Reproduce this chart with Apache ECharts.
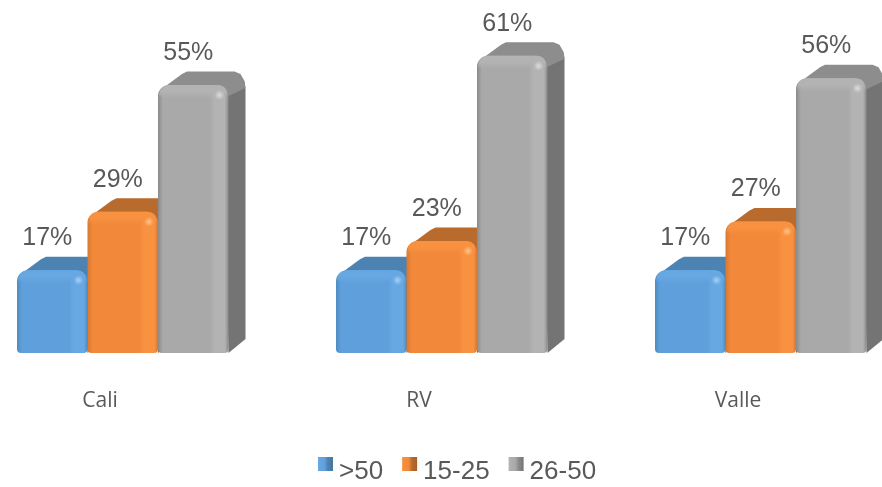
<!DOCTYPE html>
<html><head><meta charset="utf-8">
<style>html,body{margin:0;padding:0;background:#fff}#c{width:882px;height:487px;filter:blur(0.7px)}</style>
<script src="https://cdn.jsdelivr.net/npm/echarts@6/dist/echarts.min.js"></script>
</head><body><div id="c"></div>
<script>
const categories = ['Cali', 'RV', 'Valle'];
const over50 = [17, 17, 17];
const range15to25 = [29, 23, 27];
const range26to50 = [55, 61, 56.4];
const seriesNames = ['>50', '15-25', '26-50'];

const palettes = [
  {edge:'#4f8bc2', base:'#5f9fdb', lite:'#67a8e3', top:'#4c83b2', side:'#47759f', glow:'#a5d0f5'},
  {edge:'#d9772f', base:'#f1883a', lite:'#f89140', top:'#b96b2d', side:'#a55e27', glow:'#ffc48a'},
  {edge:'#8a8a8a', base:'#a9a9a9', lite:'#b3b3b3', top:'#8d8d8d', side:'#747474', glow:'#dcdcdc'}
];
const barW = 70.5, depthX = 17, depthY = 14, startOff = -83, labelDY = -32, labelDX = -5;

function renderBar(si){
  const p = palettes[si];
  return function(params, api){
    const pt = api.coord([api.value(0), api.value(1)]);
    const base = api.coord([api.value(0), 0]);
    const x0 = pt[0] + startOff + si * barW, x1 = x0 + barW;
    const y = pt[1], b = base[1], h = b - y;
    const grad = (d, stops) => ({type:'linear', x:0, y:0, x2:d?1:0, y2:d?0:1, colorStops:stops});
    return {type:'group', children:[
      {type:'polygon', shape:{points:[[x1-6,y+4],[x1-3,y-5],[x1+4,y-12],[x1+depthX-5,y-8],[x1+depthX-1,y-3],[x1+depthX,y+3],[x1+depthX,b-depthY],[x1,b]]},
        style:{fill:p.side}},
      {type:'polygon', shape:{points:[[x0+2,y+8],[x0+5,y+3],[x0+24,y-11],[x0+29,y-13.5],[x1+6,y-13.5],[x1+12,y-11],[x1+16,y-4],[x1+depthX,y+3],[x1-2,y+12]]},
        style:{fill:p.top}},
      {type:'rect', shape:{x:x0,y:y,width:barW,height:h,r:[11,11,4,4]},
        style:{fill:grad(1,[{offset:0,color:p.edge},{offset:0.07,color:p.base},{offset:0.74,color:p.base},{offset:0.8,color:p.lite},{offset:0.95,color:p.lite},{offset:1,color:p.edge}])}},
      {type:'rect', shape:{x:x0+1,y:y,width:barW-2,height:13,r:[11,11,0,0]},
        style:{fill:grad(0,[{offset:0,color:p.lite},{offset:0.5,color:p.lite},{offset:1,color:p.lite+'00'}])}},
      {type:'circle', shape:{cx:x1-9,cy:y+10,r:5},
        style:{fill:{type:'radial',x:0.5,y:0.5,r:0.5,colorStops:[{offset:0,color:p.glow},{offset:1,color:p.glow+'00'}]}}},
      {type:'text', style:{text:Math.round(api.value(1))+'%', x:x0+barW/2+labelDX, y:y+labelDY, align:'center', verticalAlign:'middle',
        fill:'#595959', font:'25px "Liberation Sans"'}}
    ]};
  };
}
const values = [over50, range15to25, range26to50];
const legendFill = c => ({type:'linear',x:0,y:0,x2:1,y2:0,colorStops:[{offset:0,color:c.lite},{offset:0.45,color:c.base},{offset:0.65,color:c.top},{offset:1,color:c.side}]});
const legendIcon = 'path://M0,0H15V14H0Z M0,30H0Z';

const chart = echarts.init(document.getElementById('c'), null, {renderer:'canvas'});
chart.setOption({
  animation:false,
  backgroundColor:'#fff',
  grid:{left:100, right:144, top:12, bottom:134},
  xAxis:{type:'category', data:categories, boundaryGap:false,
    axisLine:{show:false}, axisTick:{show:false}, splitLine:{show:false},
    axisLabel:{margin:38, color:'#595959', fontFamily:'Open Sans', fontSize:21, hideOverlap:false, showMinLabel:true, showMaxLabel:true}},
  yAxis:{type:'value', min:0, max:70, show:false},
  legend:{left:318, top:457, padding:0, itemWidth:15, itemHeight:30, itemGap:19, icon:legendIcon,
    data:seriesNames.map((n,i)=>({name:n, itemStyle:{color:legendFill(palettes[i])}})),
    textStyle:{color:'#595959', fontFamily:'Liberation Sans', fontSize:26, padding:[0,0,0,1]}},
  series:seriesNames.map((n,i)=>({
    name:n, type:'custom', renderItem:renderBar(i), clip:false,
    itemStyle:{color:palettes[i].base},
    encode:{x:0,y:1},
    data:categories.map((c,j)=>[c, values[i][j]])
  }))
});
</script></body></html>
